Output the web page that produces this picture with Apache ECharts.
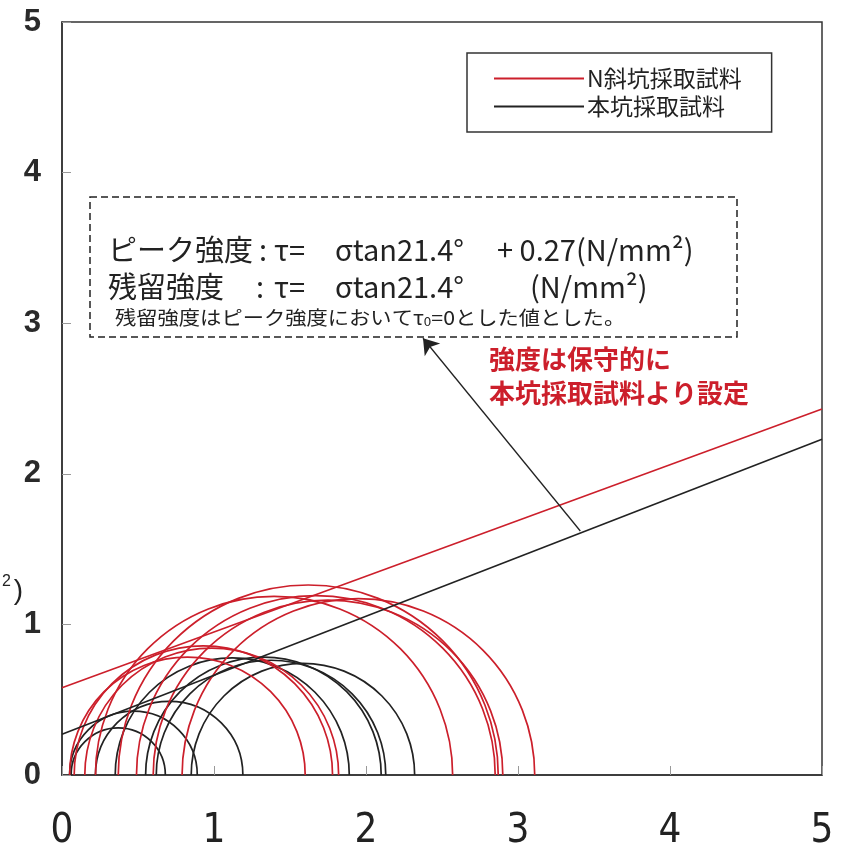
<!DOCTYPE html>
<html><head><meta charset="utf-8">
<script src="https://cdn.jsdelivr.net/npm/echarts@6/dist/echarts.min.js"></script>
<style>html,body{margin:0;padding:0;background:#fff}#c{width:844px;height:859px}</style>
</head><body><div id="c"></div>
<script>
// ---- data ----
const xTicks = [0, 1, 2, 3, 4, 5];
const yTicks = [0, 1, 2, 3, 4, 5];
const seriesNames = ['N斜坑採取試料', '本坑採取試料'];
// Mohr circles: [sigma3, sigma1]
const redCircles = [[0.05,1.60],[0.08,1.78],[0.15,1.82],[0.22,2.57],[0.37,2.87],[0.49,2.85],[0.60,2.90],[0.79,3.11]];
const blackCircles = [[0.06,0.68],[0.05,0.89],[0.22,1.19],[0.35,1.89],[0.55,2.10],[0.62,2.13],[0.85,2.32]];
// strength envelopes
const redLine = [[0,0.58],[5,2.43]];
const blackLine = [[0,0.27],[5,2.23]];
// annotation arrow (from black line to the text box)
const arrowLine = [[3.41,1.62],[2.375,2.90]];

const RED = '#cc1f2b', BLACK = '#222';
const chart = echarts.init(document.getElementById('c'));

function circleRender(color){
  return function(params, api){
    const p1 = api.coord([api.value(0), 0]);
    const p2 = api.coord([api.value(1), 0]);
    const r = (p2[0]-p1[0])/2;
    return {type:'arc', shape:{cx:(p1[0]+p2[0])/2, cy:p1[1], r:r, startAngle:Math.PI, endAngle:2*Math.PI, clockwise:true},
      style:{stroke:color, fill:null, lineWidth:1.7}};
  };
}
const JP = '"Noto Sans CJK JP", sans-serif';
function txt(x,y,text,size,opts){
  opts = opts||{};
  return {type:'text', x:x, y:y, z:100, scaleX:opts.sx||1, style:Object.assign({text:text, font:(opts.weight||'normal')+' '+size+'px '+(opts.family||JP), fill:opts.fill||BLACK, textAlign:opts.align||'left', textVerticalAlign:'middle'}, opts.style||{})};
}

chart.setOption({
  animation:false,
  grid:{left:62, right:22, top:22, bottom:84, show:true, borderColor:'#333', borderWidth:1.5},
  xAxis:{type:'value', min:xTicks[0], max:xTicks[xTicks.length-1], interval:1,
    axisLine:{lineStyle:{color:'#333', width:1.5}},
    axisTick:{inside:true, length:9, lineStyle:{color:'#999'}},
    splitLine:{show:false},
    axisLabel:{fontSize:40, margin:37, color:'#222', fontFamily:'"Liberation Sans Narrow", "DejaVu Sans Condensed", sans-serif'}},
  yAxis:{type:'value', min:yTicks[0], max:yTicks[yTicks.length-1], interval:1,
    axisLine:{lineStyle:{color:'#333', width:1.5}},
    axisTick:{inside:true, length:9, lineStyle:{color:'#999'}},
    splitLine:{show:false},
    axisLabel:{fontSize:31, fontWeight:'bold', margin:21, color:'#2a2a2a', fontFamily:'"Liberation Sans", Arial, sans-serif'}},
  legend:{left:467, top:53, orient:'vertical', padding:[14,30,14,27], itemGap:5, itemWidth:90, itemHeight:2,
    borderColor:'#333', borderWidth:1.5, backgroundColor:'#fff', selectedMode:false,
    textStyle:{fontSize:23, fontFamily:JP, color:'#222', padding:[0,0,0,-2]},
    data:[{name:seriesNames[0], icon:'rect', itemStyle:{color:RED}}, {name:seriesNames[1], icon:'rect', itemStyle:{color:BLACK}}]},
  series:[
    {type:'custom', name:seriesNames[0], itemStyle:{color:RED}, renderItem:circleRender(RED), data:redCircles, encode:{x:[0,1]}, z:3, silent:true},
    {type:'custom', name:seriesNames[1], itemStyle:{color:BLACK}, renderItem:circleRender(BLACK), data:blackCircles, encode:{x:[0,1]}, z:2, silent:true},
    {type:'line', name:seriesNames[0], data:redLine, symbol:'none', itemStyle:{color:RED}, lineStyle:{color:RED, width:1.6}, z:4, silent:true},
    {type:'line', name:seriesNames[1], data:blackLine, symbol:'none', itemStyle:{color:BLACK}, lineStyle:{color:BLACK, width:1.6}, z:4, silent:true,
      markLine:{silent:true, symbol:['none','arrow'], symbolSize:15, label:{show:false},
        lineStyle:{color:BLACK, width:1.3, type:'solid'},
        data:[[{coord:arrowLine[0]},{coord:arrowLine[1]}]]}}
  ],
  graphic:[
    {type:'rect', z:90, shape:{x:90, y:197, width:647, height:140}, style:{fill:null, stroke:BLACK, lineWidth:1.5, lineDash:[7,4]}},
    txt(108,250,'ピーク強度',29), txt(259,250,':',29), txt(274,250,'τ=',29), txt(335,250,'σtan21.4°',29), txt(497,250,'+ 0.27(N/mm²)',29),
    txt(108,287,'残留強度',29), txt(256,287,':',29), txt(274,287,'τ=',29), txt(335,287,'σtan21.4°',29), txt(530,287,'(N/mm²)',29),
    {type:'text', x:115, y:318, z:100, scaleX:1.12, style:{text:'{a|残留強度はピーク強度においてτ}{s|0}{a|=0とした値とした。}', textVerticalAlign:'middle',
      rich:{a:{fontSize:19, fontFamily:JP, fill:BLACK}, s:{fontSize:12, fontFamily:JP, fill:BLACK, verticalAlign:'bottom'}}}},
    txt(489,359,'強度は保守的に',26,{fill:RED, weight:'bold'}),
    txt(489,393,'本坑採取試料より設定',26,{fill:RED, weight:'bold'}),
    txt(23,591,')',28,{align:'right', family:'"Liberation Sans", sans-serif'}),
    txt(11,582,'2',16,{align:'right', family:'"Liberation Sans", sans-serif'})
  ]
});
</script></body></html>
